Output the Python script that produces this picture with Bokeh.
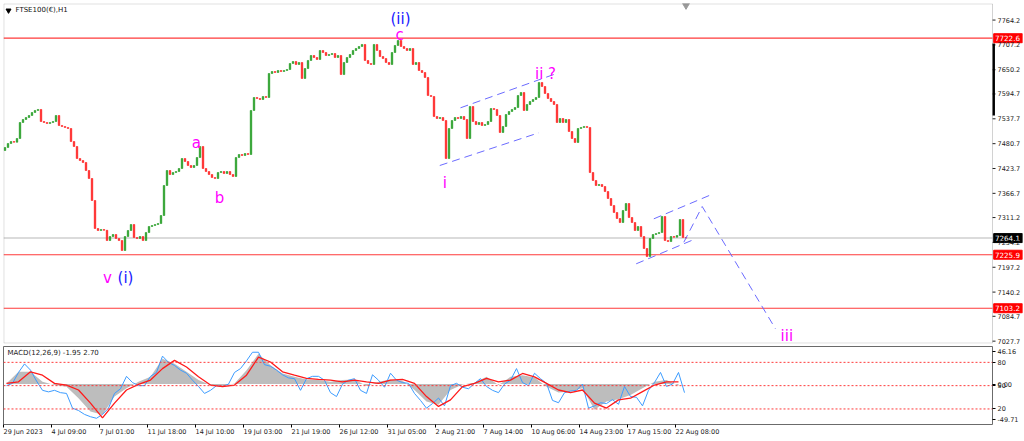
from bokeh.plotting import figure
from bokeh.models import (Range1d, FixedTicker, Span, Label, ColumnDataSource,
                          PrintfTickFormatter, BoxAnnotation)
from bokeh.layouts import column
from bokeh.embed import file_html
from bokeh.resources import INLINE
from bokeh.core.properties import value

# ---------------- data ----------------
# 4-hour closes of FTSE100, starting 29 Jun 2023
first_open = 7465.0
closes = [
    7471.9, 7481.1, 7485.6, 7484.0, 7492.5, 7529.2, 7536.1, 7540.7, 7545.3, 7552.2,
    7556.8, 7559.1, 7531.5, 7529.2, 7526.9, 7529.2, 7531.5, 7545.3, 7522.4, 7520.1,
    7517.8, 7515.5, 7485.6, 7474.2, 7446.6, 7442.1, 7437.5, 7419.1, 7400.8, 7350.3,
    7286.1, 7281.5, 7283.8, 7282.0, 7258.5, 7267.7, 7272.3, 7263.1, 7258.5, 7235.6,
    7267.7, 7281.5, 7295.2, 7265.4, 7263.1, 7267.7, 7258.5, 7276.8, 7290.7, 7292.9,
    7295.2, 7297.5, 7315.9, 7384.7, 7419.1, 7409.9, 7414.5, 7416.8, 7423.7, 7446.6,
    7439.8, 7430.6, 7426.0, 7430.6, 7448.9, 7474.2, 7423.7, 7416.8, 7409.9, 7403.1,
    7400.8, 7414.5, 7416.8, 7412.2, 7416.8, 7409.9, 7405.4, 7448.9, 7455.8, 7453.5,
    7458.1, 7455.8, 7556.8, 7586.6, 7584.3, 7582.0, 7588.9, 7586.6, 7641.6, 7646.2,
    7643.9, 7648.5, 7646.2, 7648.5, 7650.8, 7664.6, 7669.2, 7662.3, 7666.9, 7630.2,
    7653.1, 7671.5, 7682.9, 7678.3, 7673.8, 7694.4, 7689.8, 7682.9, 7685.2, 7687.5,
    7678.3, 7682.9, 7639.3, 7666.9, 7678.3, 7685.2, 7694.4, 7699.0, 7703.6, 7708.2,
    7671.5, 7664.6, 7662.3, 7708.2, 7694.4, 7680.6, 7676.0, 7666.9, 7662.3, 7689.8,
    7705.9, 7717.3, 7703.6, 7699.0, 7694.4, 7699.0, 7662.3, 7666.9, 7648.5, 7643.9,
    7632.5, 7591.2, 7588.9, 7543.0, 7538.4, 7540.7, 7533.8, 7446.6, 7515.5, 7533.8,
    7540.7, 7538.4, 7543.0, 7536.1, 7492.5, 7565.9, 7531.5, 7524.6, 7529.2, 7522.4,
    7524.6, 7531.5, 7561.3, 7559.1, 7545.3, 7506.3, 7520.1, 7547.6, 7554.5, 7559.1,
    7563.6, 7591.2, 7598.0, 7556.8, 7570.5, 7577.4, 7582.0, 7586.6, 7621.0, 7611.8,
    7595.8, 7584.3, 7577.4, 7570.5, 7529.2, 7538.4, 7529.2, 7536.1, 7508.6, 7492.5,
    7483.4, 7515.5, 7517.8, 7520.1, 7517.8, 7414.5, 7396.2, 7384.7, 7387.0, 7382.4,
    7370.9, 7354.9, 7338.8, 7322.8, 7309.0, 7299.8, 7327.4, 7343.4, 7311.3, 7299.8,
    7281.5, 7290.7, 7267.7, 7240.2, 7221.8, 7263.1, 7272.3, 7274.5, 7276.8, 7313.6,
    7258.5, 7256.2, 7267.7, 7266.0, 7270.0, 7306.7, 7265.4, 7264.1,
]
bar_hours = 4

# horizontal levels
red_levels = [7722.6, 7225.9, 7103.2]
last_price = 7264.1
scale_mark = [7710.4, 7545.3]          # dark marker on the price scale

# price axis ticks
price_ticks = [7764.2, 7707.2, 7650.2, 7594.7, 7537.7, 7480.7, 7423.7,
               7366.7, 7311.2, 7254.2, 7197.2, 7140.2, 7084.7, 7027.7]

# time axis (hours since first bar) and labels
time_ticks = [0, 64, 128, 192, 256, 320, 384, 448, 512, 576, 640, 704, 768, 832, 896]
time_labels = ["29 Jun 2023", "4 Jul 09:00", "7 Jul 01:00", "11 Jul 18:00", "14 Jul 10:00",
               "19 Jul 03:00", "21 Jul 19:00", "26 Jul 12:00", "31 Jul 05:00", "2 Aug 21:00",
               "7 Aug 14:00", "10 Aug 06:00", "14 Aug 23:00", "17 Aug 15:00", "22 Aug 08:00"]

# channel / projection lines (hours, price)
chan_up_x = [609.3, 740.0];   chan_up_y = [7562.9, 7643.2]
chan_lo_x = [581.7, 713.7];   chan_lo_y = [7430.6, 7505.6]
flag_up_x = [867.1, 945.0];   flag_up_y = [7308.3, 7364.7]
flag_lo_x = [843.6, 922.7];   flag_lo_y = [7205.1, 7262.4]
proj_x = [907.1, 931.6, 1029.3]; proj_y = [7254.6, 7336.5, 7056.0]

# wave labels
wave_text = ["(ii)", "c", "a", "b", "v", "(i)", "i", "ii ?", "iii"]
wave_x = [529.3, 528.0, 257.0, 288.0, 138.7, 162.7, 588.4, 722.7, 1044.4]
wave_y = [7767.1, 7728.8, 7482.7, 7356.5, 7173.0, 7173.0, 7390.0, 7640.9, 7039.0]
wave_col = ["#2020ff", "#ff00ff", "#ff00ff", "#ff00ff", "#ff00ff", "#2020ff",
            "#ff00ff", "#ff00ff", "#ff00ff"]

# oscillator pane: blue line every 8 h, MACD (gray) + signal (red) every 16 h
blue_step = 8
blue_vals = [50, 53, 67, 78, 70, 56, 44, 42, 44, 41,
             40, 21, 18, 13, 10, 8, 13, 21, 40, 46,
             62, 54, 50, 50, 62, 67, 88, 80, 76, 70,
             66, 57, 49, 40, 44, 50, 49, 52, 67, 72,
             82, 93, 93, 77, 75, 70, 64, 60, 59, 44,
             59, 62, 62, 57, 41, 36, 52, 57, 59, 44,
             40, 64, 57, 48, 66, 57, 54, 53, 40, 31,
             21, 27, 34, 24, 50, 53, 48, 46, 53, 59,
             49, 44, 41, 52, 57, 72, 54, 50, 66, 59,
             53, 31, 28, 41, 43, 44, 52, 21, 24, 28,
             27, 32, 26, 49, 36, 35, 24, 44, 54, 67,
             49, 52, 67, 41]
macd_step = 16
macd_vals = [0.8, 15, 15, 2.8, -1.2, -3.2, -17.4, -33.6, -37.6, -15.4,
             -5.2, 2.8, 8.9, 31.2, 25.1, 15, 4.9, -1.2, -2.4, 0.8,
             17, 37.3, 23.1, 13, 8.9, 5.7, 4.9, 2.8, 4.9, 5.7,
             -2.4, 2.8, 5.7, 4.0, -7.3, -21.5, -25.5, -7.3, -0.4, 1.6,
             8.9, -1.2, 8.9, 10.9, 8.1, -3.2, -10.5, -9.3, -5.2, -31.6,
             -21.5, -18.6, -13.3, -5.2, 2.8, 4.9, -1.95]
signal_vals = [0.8, 2.8, 15, 10.9, 0.8, -1.2, -7.3, -23.4, -41.6, -23.4,
               -7.3, -0.4, 4.9, 19, 29.1, 21, 8.9, -1.2, -3.2, -1.2,
               10.9, 33.1, 27.1, 15, 10.9, 6.9, 5.7, 4.9, 2.8, 4.9,
               2.8, 0.8, 4.9, 5.7, 0.8, -15.4, -27.5, -19.4, -3.2, 0.8,
               6.9, 2.8, 4.9, 13, 8.9, 0.8, -7.3, -10.5, -7.3, -23.4,
               -29.5, -19.4, -17.4, -9.3, -1.2, 2.8, 2.70]
osc_levels = [80, 50, 20]
osc_ticks = [94, 80, 51, 50, 20, 7]
osc_tick_labels = ["46.16", "80", "0.00", "50", "20", "-49.71"]
macd_min, macd_max = -49.71, 46.16

# ---------------- build ----------------
FONT = "DejaVu Sans"
PX_PER_H = 0.75
X_END = 989 / PX_PER_H            # right edge of the price pane (hours)
X_ALL = 1019 / PX_PER_H           # price pane + price scale
Y0, Y1 = 7022.3, 7802.2
GREEN, RED = "#1f9a1f", "#ff1a1a"
BORDER = "#6b6b6b"

opens = [first_open] + closes[:-1]
xs = [bar_hours * i + bar_hours / 2 for i in range(len(closes))]
src = ColumnDataSource(dict(
    x=xs,
    top=[max(o, c) for o, c in zip(opens, closes)],
    bottom=[min(o, c) for o, c in zip(opens, closes)],
    color=[GREEN if c >= o else RED for o, c in zip(opens, closes)],
))

p = figure(frame_width=1019, frame_height=340, x_range=Range1d(0, X_ALL), y_range=Range1d(Y0, Y1),
           output_backend="svg", toolbar_location=None, x_axis_location=None,
           y_axis_location="right", min_border_left=3, min_border_top=3,
           min_border_bottom=3, min_border_right=2, background_fill_color="white",
           border_fill_color="white")
p.grid.visible = False
p.outline_line_color = None
p.add_layout(BoxAnnotation(left=0.4, right=X_END, bottom=Y0 + 0.8, top=Y1 - 0.8,
                           fill_color=None, line_color=BORDER, line_width=1))

n_lv = len(red_levels)
p.segment(x0=[0] * n_lv, x1=[X_END] * n_lv, y0=red_levels, y1=red_levels,
          line_color="#ff3a3a", line_width=1.2)
p.segment(x0=[0], x1=[X_END], y0=[last_price], y1=[last_price],
          line_color="#cfcfcf", line_width=1.5)

p.vbar(x="x", width=2.0, top="top", bottom="bottom", fill_color="color", line_color="color",
       line_width=0.6, source=src)

dash = dict(line_color="#6b6bff", line_width=1, line_dash="8 5")
p.line(chan_up_x, chan_up_y, **dash)
p.line(chan_lo_x, chan_lo_y, **dash)
p.line(flag_up_x, flag_up_y, **dash)
p.line(flag_lo_x, flag_lo_y, **dash)
p.line(proj_x, proj_y, **dash)

p.text(x=wave_x, y=wave_y, text=wave_text, text_color=wave_col, text_font=value(FONT),
       text_font_size="15px", text_align="center", text_baseline="alphabetic")

# title and shift marker
p.scatter(x=[6.7], y=[7786.2], marker="inverted_triangle", size=5, color="black")
p.add_layout(Label(x=16, y=7786.2, text="FTSE100(€),H1", text_font=FONT, text_font_size="7px",
                   text_baseline="middle", text_color="#111111"))
p.scatter(x=[xs[-1]], y=[7798.0], marker="inverted_triangle", size=7, color="#9a9a9a")

# price scale: tick marks, labels (axis drawn into the scale strip), boxes
n_t = len(price_ticks)
p.segment(x0=[X_END] * n_t, x1=[X_END + 4] * n_t, y0=price_ticks, y1=price_ticks,
          line_color="#222222", line_width=1)
p.segment(x0=[X_END + 1.6], x1=[X_END + 1.6], y0=[scale_mark[0]], y1=[scale_mark[1]],
          line_color="#000000", line_width=2.5)

ya = p.yaxis[0]
ya.ticker = FixedTicker(ticks=price_ticks)
ya.formatter = PrintfTickFormatter(format="%.1f")
ya.axis_line_color = None
ya.major_tick_line_color = None
ya.major_tick_out = 0
ya.major_tick_in = 0
ya.minor_tick_line_color = None
ya.major_label_standoff = -25
ya.major_label_text_font = FONT
ya.major_label_text_font_size = "6.5px"
ya.major_label_text_color = "#222222"

box_vals = red_levels + [last_price]
box_cols = ["#ff0000"] * n_lv + ["#000000"]
half_h = 4.6 / PX_PER_H * 0 + 10.3        # half box height in price units (~4.5 px)
p.quad(left=[X_END + 1.6] * len(box_vals), right=[X_ALL] * len(box_vals),
       bottom=[v - half_h for v in box_vals], top=[v + half_h for v in box_vals],
       fill_color=box_cols, line_color=box_cols)
p.text(x=[X_END + 3.2] * len(box_vals), y=box_vals, text=[f"{v:.1f}" for v in box_vals],
       text_color="white", text_font=value(FONT), text_font_size="7.2px",
       text_baseline="middle", text_align="left")

# ---------------- oscillator pane ----------------
m = figure(frame_width=989, frame_height=78, x_range=Range1d(0, X_END), y_range=Range1d(0, 100.4),
           output_backend="svg", toolbar_location=None, y_axis_location="right",
           min_border_left=3, min_border_top=0, min_border_right=0, min_border_bottom=0,
           background_fill_color="white", border_fill_color="white")
m.extra_y_ranges = {"macd": Range1d(macd_min, macd_max)}
m.grid.visible = False
m.outline_line_color = BORDER

mx = [macd_step * i + 4 for i in range(len(macd_vals))]
bx = [blue_step * i + 4 for i in range(len(blue_vals))]
m.varea(x=mx, y1=[0] * len(mx), y2=macd_vals, y_range_name="macd", fill_color="#bdbdbd")
m.line(bx, blue_vals, line_color="#3d9cff", line_width=1)
m.line(mx, signal_vals, y_range_name="macd", line_color="#ff1a1a", line_width=1.3)
for lv in osc_levels:
    m.add_layout(Span(location=lv, dimension="width", line_color="#ff3a3a", line_width=1,
                      line_dash="2 2"))
m.add_layout(Label(x=5.3, y=92.0, text="MACD(12,26,9) -1.95 2.70", text_font=FONT,
                   text_font_size="7px", text_baseline="middle", text_color="#222222"))

ma = m.yaxis[0]
ma.ticker = FixedTicker(ticks=osc_ticks)
ma.major_label_overrides = dict(zip(osc_ticks, osc_tick_labels))
ma.axis_line_color = None
ma.major_tick_out = 3
ma.major_tick_in = 0
ma.minor_tick_line_color = None
ma.major_label_standoff = 2
ma.major_label_text_font = FONT
ma.major_label_text_font_size = "6.5px"
ma.major_label_text_color = "#222222"

xa = m.xaxis[0]
xa.ticker = FixedTicker(ticks=time_ticks)
xa.major_label_overrides = dict(zip(time_ticks, time_labels))
xa.major_label_orientation = -0.0001
xa.axis_line_color = None
xa.major_tick_out = 3
xa.major_tick_in = 0
xa.minor_tick_line_color = None
xa.major_label_standoff = 4
xa.major_label_text_font = FONT
xa.major_label_text_font_size = "6.5px"
xa.major_label_text_color = "#222222"

layout = column(p, m, spacing=0)
open("out.html", "w").write(file_html(layout, INLINE))
